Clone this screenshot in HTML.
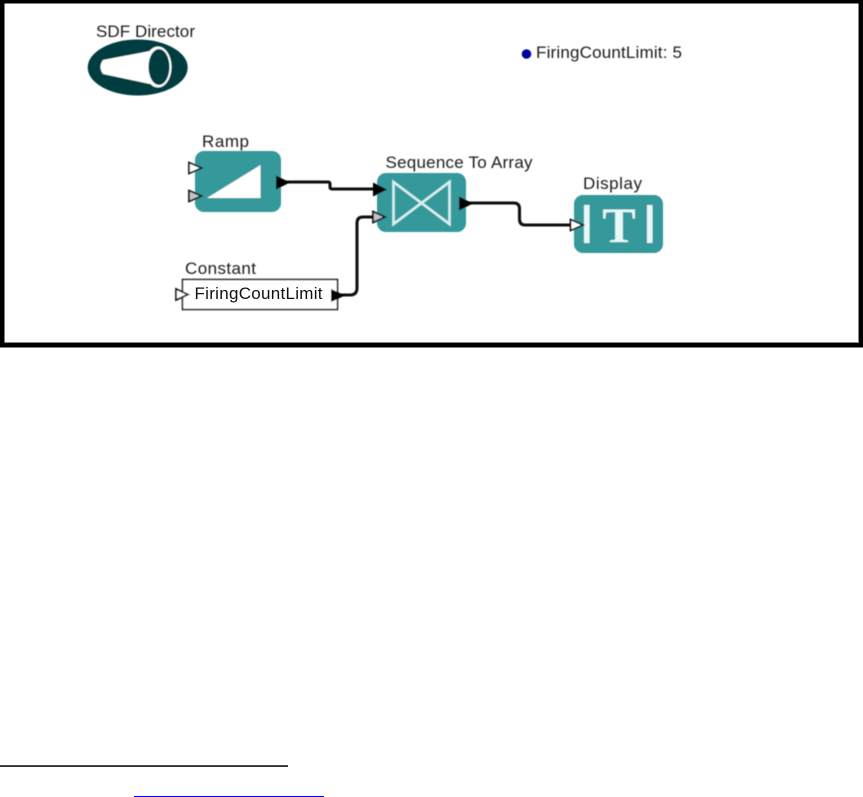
<!DOCTYPE html>
<html>
<head>
<meta charset="utf-8">
<style>
html,body{margin:0;padding:0;background:#fff;width:863px;height:797px;overflow:hidden}
svg{display:block;position:absolute;left:0;top:0}
text{font-family:"Liberation Sans",sans-serif;font-size:17px;fill:#1c1c1c}
</style>
</head>
<body>
<svg width="863" height="797" viewBox="0 0 863 797" xmlns="http://www.w3.org/2000/svg">
<defs><filter id="soft" x="-5%" y="-5%" width="110%" height="110%"><feGaussianBlur stdDeviation="0.4"/></filter></defs>
<rect width="863" height="797" fill="#fff"/>
<!-- frame -->
<rect x="0" y="0" width="863" height="347.5" fill="#000"/>
<rect x="4.5" y="3.5" width="854" height="339" fill="#fff"/>
<rect x="858" y="3.5" width="1" height="339.5" fill="#888"/>
<rect x="4.5" y="342" width="854" height="1" fill="#888"/>

<g filter="url(#soft)">
<!-- SDF Director -->
<text x="96" y="37" textLength="99">SDF Director</text>
<ellipse cx="137.7" cy="67.500" rx="50" ry="28" fill="#053c40"/>
<path d="M103 60 L150 51 L150 84 L103 74 Q98 67 103 60Z" fill="#fff"/>
<ellipse cx="158" cy="67" rx="13.500" ry="20.500" fill="#fff"/>
<ellipse cx="159" cy="67" rx="10.500" ry="18" fill="#053c40"/>

<!-- FiringCountLimit param -->
<circle cx="526.500" cy="54" r="4.800" fill="#00009c"/>
<text x="536" y="58" textLength="146">FiringCountLimit: 5</text>

<!-- Ramp -->
<text x="202" y="147" textLength="47">Ramp</text>
<rect x="195" y="151" width="86" height="61" rx="9" fill="#36989a"/>
<path d="M207 198 L260.500 165 L260.500 198Z" fill="#fff"/>

<!-- Sequence To Array -->
<text x="385.500" y="168" textLength="147">Sequence To Array</text>
<rect x="377" y="173" width="89" height="59" rx="9" fill="#36989a"/>
<path d="M393.500 182 L449.500 224 L449.500 182 L393.500 224Z" fill="none" stroke="#d5f0f0" stroke-width="2.600"/>

<!-- Display -->
<text x="583" y="189" textLength="59">Display</text>
<rect x="574" y="195" width="89" height="58" rx="9" fill="#36989a"/>
<rect x="584" y="205" width="5.500" height="38" fill="#e8f8f8"/>
<rect x="647" y="205" width="5.500" height="38" fill="#e8f8f8"/>
<text x="619" y="242" text-anchor="middle" style="font-family:'Liberation Serif',serif;font-size:50px;font-weight:bold;fill:#e8f8f8">T</text>

<!-- Constant -->
<text x="185" y="274" textLength="71">Constant</text>
<rect x="182.500" y="279.500" width="155" height="30" fill="#fff" stroke="#111" stroke-width="1.500"/>

<!-- wires -->
<path d="M282 182 L328 182 Q330 182 330 184 L330 187 Q330 189 332 189 L378 189" fill="none" stroke="#111" stroke-width="3"/>
<path d="M338 295 L350 295 Q357 295 357 288 L357 223 Q357 217 363 217 L376 217" fill="none" stroke="#111" stroke-width="3"/>
<path d="M466 203 L514 203 Q519 203 519.500 208 L519.500 219 Q519.500 225 525 225 L572 225" fill="none" stroke="#111" stroke-width="3"/>

<!-- ports: outputs -->
<path d="M276 175.500 L276 189.500 L290 182.500Z" fill="#000"/>
<path d="M459 196.500 L459 210.500 L473 203.500Z" fill="#000"/>
<path d="M331 289 L331 302 L345 295.500Z" fill="#000"/>
<path d="M373 182.500 L373 196.500 L387 189.500Z" fill="#000"/>

<!-- ports: inputs -->
<path d="M189 162.500 L189 173.500 L201.500 168Z" fill="#fff" stroke="#111" stroke-width="1.700"/>
<path d="M189 190.500 L189 201.500 L201.500 196Z" fill="#c4c4c4" stroke="#111" stroke-width="1.700"/>
<path d="M373 211.500 L373 222.500 L385 217Z" fill="#c4c4c4" stroke="#111" stroke-width="1.700"/>
<path d="M570.500 219.500 L570.500 230.500 L583 225Z" fill="#fff" stroke="#111" stroke-width="1.700"/>
<path d="M176 289 L176 300 L188 294.500Z" fill="#fff" stroke="#111" stroke-width="1.700"/>
</g>

<text x="194.500" y="299" textLength="128" style="fill:#111">FiringCountLimit</text>

<!-- footnote rules -->
<rect x="0" y="765.300" width="288" height="1.500" fill="#000"/>
<rect x="134" y="796" width="190" height="1" fill="#0000ff"/>
</svg>
</body>
</html>
